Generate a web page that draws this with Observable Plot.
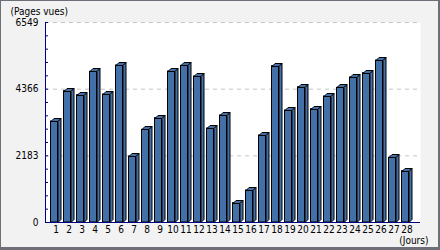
<!DOCTYPE html>
<html>
<head>
<meta charset="utf-8">
<script src="https://cdn.jsdelivr.net/npm/d3@7"></script>
<script src="https://cdn.jsdelivr.net/npm/@observablehq/plot@0.6"></script>
<style>
  html, body { margin: 0; padding: 0; background: #f2f2f2; }
  #chart svg { display: block; }
</style>
</head>
<body>
<div id="chart"></div>
<script>
// Data
const days = ["1","2","3","4","5","6","7","8","9","10","11","12","13","14","15","16","17","18","19","20","21","22","23","24","25","26","27","28"];
const views = [3307, 4300, 4169, 4935, 4191, 5141, 2161, 3035, 3416, 4944, 5130, 4781, 3078, 3504, 633, 1048, 2849, 5119, 3667, 4431, 3711, 4126, 4410, 4748, 4890, 5305, 2118, 1680];
const yTicks = [0, 2183, 4366, 6549];
const yMax = 6549;
const yLabel = "(Pages vues)";
const xLabel = "(Jours)";

const table = days.map((d, i) => ({day: d, views: views[i]}));
const minorTicks = d3.range(0, 16).map(i => i * yMax / 15);

const BLUE = "#4470a8";
const NAVY = "#000080";
const D = 3, INSET_L = 1.5, INSET_R = 4.5;

function faces(index, scales, values, dimensions) {
  const x = scales.x, y = scales.y, bw = x.bandwidth();
  const g = d3.create("svg:g").attr("transform", "translate(0.5,0.5)")
    .attr("fill", BLUE).attr("stroke", "black").attr("stroke-width", 1);
  table.forEach(r => {
    const x0 = x(r.day) + INSET_L, x1 = x(r.day) + bw - INSET_R;
    const t = Math.round(y(r.views)), b = Math.round(y(0));
    g.append("path").attr("d", `M${x0},${t}L${x0 + D},${t - D}L${x1 + D},${t - D}L${x1},${t}Z`);
    g.append("path").attr("d", `M${x1},${t}L${x1 + D},${t - D}L${x1 + D},${b - D}L${x1},${b}Z`);
  });
  return g.node();
}

function yAxisLine(index, scales, values, dimensions) {
  const {marginLeft, marginTop, marginBottom, height} = dimensions;
  return d3.create("svg:line")
    .attr("x1", marginLeft + 0.5).attr("x2", marginLeft + 0.5)
    .attr("y1", marginTop).attr("y2", height - marginBottom + 0.5)
    .attr("stroke", NAVY).node();
}

const chart = Plot.plot({
  width: 440,
  height: 250,
  marginLeft: 45,
  marginRight: 20,
  marginTop: 22,
  marginBottom: 28,
  style: {
    background: "#f2f2f2",
    fontFamily: "'DejaVu Sans Condensed', 'DejaVu Sans', sans-serif",
    fontSize: "10px",
    color: "#000",
    boxShadow: "inset 1px 1px 0 #6e6e78, inset -2px -3px 0 #6e6e78"
  },
  x: {type: "band", domain: days, range: [48.5, 412.5], padding: 0, tickSize: 0, tickPadding: 3, label: null},
  y: {domain: [0, yMax], ticks: yTicks, tickFormat: d => String(d), tickSize: 0, tickPadding: 7, label: null},
  marks: [
    Plot.frame({fill: "white", stroke: "none"}),
    Plot.ruleY(yTicks.slice(1), {stroke: "#c4c4c4", strokeDasharray: "4,4"}),
    Plot.barY(table, {x: "day", y: "views", fill: BLUE, stroke: "black", strokeWidth: 1, insetLeft: INSET_L, insetRight: INSET_R}),
    faces,
    Plot.ruleY([0], {stroke: NAVY}),
    Plot.ruleY(minorTicks, {stroke: NAVY, insetRight: 372}),
    yAxisLine,
    Plot.text([yLabel], {text: d => d, frameAnchor: "top-left", dx: -35, dy: -15, textAnchor: "start", fontSize: 10}),
    Plot.text([xLabel], {text: d => d, frameAnchor: "bottom-right", dx: 8, dy: 21, textAnchor: "end", fontSize: 10})
  ]
});
document.getElementById("chart").appendChild(chart);
</script>
</body>
</html>
